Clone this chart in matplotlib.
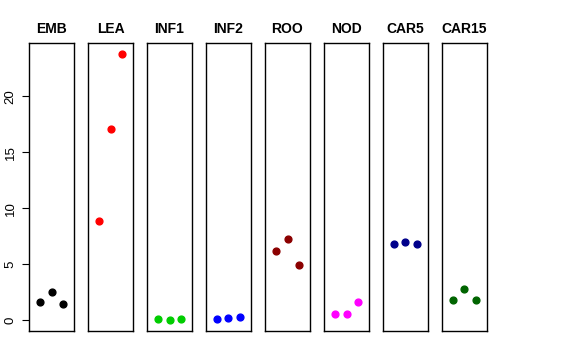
import numpy as np
import matplotlib.pyplot as plt

plt.rcParams['font.family'] = ['Liberation Sans', 'DejaVu Sans']

# tissue groups and their three replicate values
groups = ['EMB', 'LEA', 'INF1', 'INF2', 'ROO', 'NOD', 'CAR5', 'CAR15']
emb = [1.6, 2.5, 1.5]
lea = [8.9, 17.1, 23.8]
inf1 = [0.1, 0.0, 0.1]
inf2 = [0.1, 0.24, 0.27]
roo = [6.2, 7.25, 4.95]
nod = [0.55, 0.55, 1.6]
car5 = [6.85, 6.95, 6.8]
car15 = [1.8, 2.8, 1.85]
values = [emb, lea, inf1, inf2, roo, nod, car5, car15]
colors = ['black', 'red', '#00CD00', 'blue', '#8B0000', 'magenta', '#00008B', '#006400']

fig = plt.figure(figsize=(5.76, 3.6), dpi=100)

left0 = 29 / 576
step = 59 / 576
width = 45 / 576
bottom = 1 - 331 / 360
height = (331 - 43) / 360

allv = np.concatenate(values)
rng = allv.max() - allv.min()
ylo, yhi = allv.min() - 0.04 * rng, allv.max() + 0.04 * rng

for i, (name, vals, col) in enumerate(zip(groups, values, colors)):
    ax = fig.add_axes([left0 + i * step, bottom, width, height])
    ax.scatter([1, 2, 3], vals, s=24, color=col, zorder=3)
    ax.set_xlim(0, 4)
    ax.set_ylim(ylo, yhi)
    ax.set_xticks([])
    ax.set_title(name, fontsize=10, fontweight='bold', pad=7)
    for sp in ax.spines.values():
        sp.set_linewidth(1)
    if i == 0:
        ax.set_yticks([0, 5, 10, 15, 20])
        ax.tick_params(axis='y', length=5, labelsize=9.5, pad=4)
        for lab in ax.get_yticklabels():
            lab.set_rotation(90)
            lab.set_va('center')
    else:
        ax.set_yticks([])

fig.savefig('out.png', dpi=100)
